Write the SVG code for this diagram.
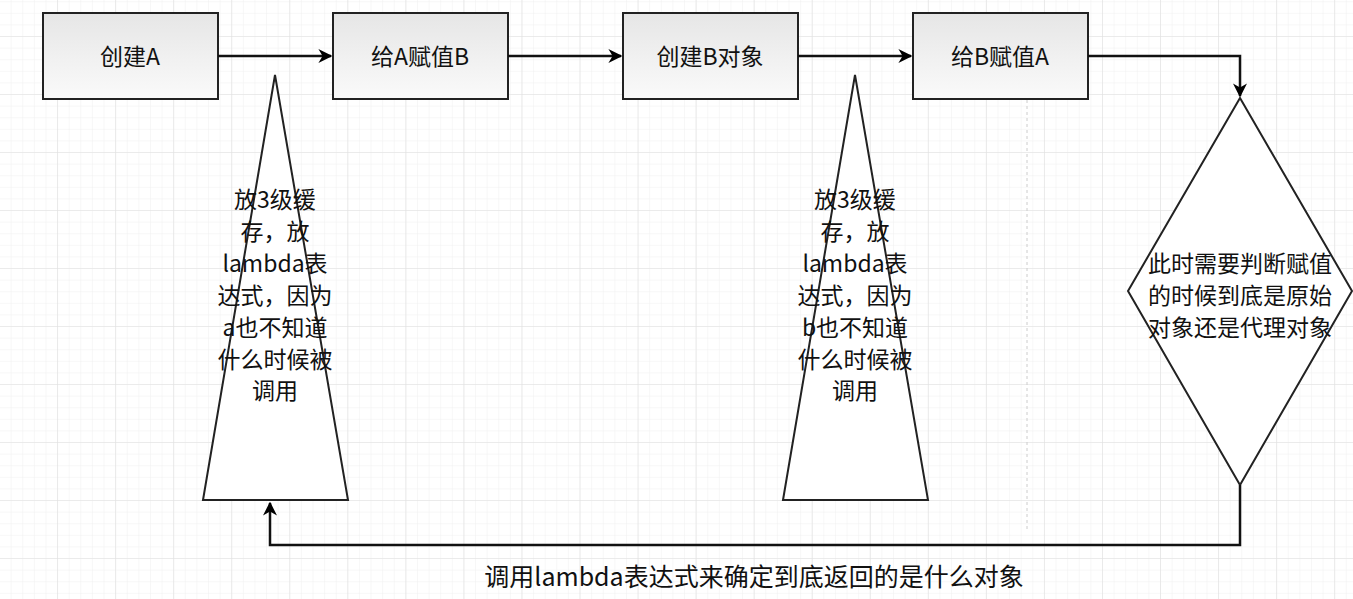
<svg xmlns="http://www.w3.org/2000/svg" width="1353" height="599" viewBox="0 0 1353 599">
<defs>
<pattern id="minor" x="0" y="37" width="11.61" height="11.6" patternUnits="userSpaceOnUse"><path d="M11.61 0V11.6M0 11.6H11.61" fill="none" stroke="#f0f0f0" stroke-width="1"/></pattern>
<pattern id="major" x="0" y="37" width="58.05" height="58" patternUnits="userSpaceOnUse"><path d="M58.05 0V58M0 58H58.05" fill="none" stroke="#e0e0e0" stroke-width="1.2"/></pattern>
<linearGradient id="g" x1="0" y1="0" x2="0" y2="1"><stop offset="0" stop-color="#e6e6e6"/><stop offset="1" stop-color="#fafafa"/></linearGradient>
<marker id="a" viewBox="0 0 10 10" refX="9" refY="5" markerWidth="14" markerHeight="14" markerUnits="userSpaceOnUse" orient="auto"><path d="M0 0L10 5L0 10L3 5Z" fill="#000"/></marker>
<style>
.box{fill:url(#g);stroke:#222;stroke-width:2}
.sh{fill:#fff;stroke:#222;stroke-width:2}
text{font-family:"Noto Sans CJK SC","Liberation Sans",sans-serif;font-size:23px;fill:#111;text-anchor:middle}
.c{fill:none;stroke:#111;stroke-width:2.5}
</style>
</defs>
<rect width="1353" height="599" fill="#fff"/>
<rect width="1353" height="599" fill="url(#minor)"/>
<rect width="1353" height="599" fill="url(#major)"/>
<line x1="1027" y1="100" x2="1027" y2="530" stroke="#ccc" stroke-dasharray="3 3"/>
<g id="n1"><rect class="box" x="43" y="13" width="175" height="86"/><text x="130" y="65">创建A</text></g>
<g id="n2"><rect class="box" x="333" y="13" width="175" height="86"/><text x="420" y="65">给A赋值B</text></g>
<g id="n3"><rect class="box" x="623" y="13" width="175" height="86"/><text x="710" y="65">创建B对象</text></g>
<g id="n4"><rect class="box" x="913" y="13" width="175" height="86"/><text x="1000" y="65">给B赋值A</text></g>
<g id="t1"><polygon class="sh" points="275,75 348,500 203,500"/>
<text x="275" y="208">放3级缓</text><text x="275" y="240">存，放</text><text x="275" y="272">lambda表</text><text x="275" y="304">达式，因为</text><text x="275" y="336">a也不知道</text><text x="275" y="368">什么时候被</text><text x="275" y="399">调用</text></g>
<g id="t2"><polygon class="sh" points="855,75 928,500 783,500"/>
<text x="855" y="208">放3级缓</text><text x="855" y="240">存，放</text><text x="855" y="272">lambda表</text><text x="855" y="304">达式，因为</text><text x="855" y="336">b也不知道</text><text x="855" y="368">什么时候被</text><text x="855" y="399">调用</text></g>
<g id="d"><polygon class="sh" points="1240,98 1352,291 1240,485 1128,291"/>
<text x="1240" y="272">此时需要判断赋值</text><text x="1240" y="304">的时候到底是原始</text><text x="1240" y="336">对象还是代理对象</text></g>
<g id="edges">
<line class="c" x1="218" y1="56" x2="331" y2="56" marker-end="url(#a)"/>
<line class="c" x1="508" y1="56" x2="621" y2="56" marker-end="url(#a)"/>
<line class="c" x1="798" y1="56" x2="911" y2="56" marker-end="url(#a)"/>
<polyline class="c" points="1088,56 1240,56 1240,96" marker-end="url(#a)"/>
<polyline class="c" points="1240,485 1240,545 270,545 270,503" marker-end="url(#a)"/>
<text x="754" y="586" style="font-size:25px">调用lambda表达式来确定到底返回的是什么对象</text>
</g>
</svg>
